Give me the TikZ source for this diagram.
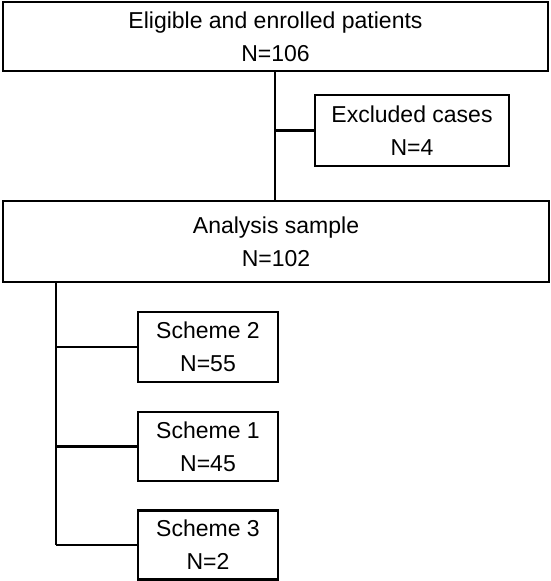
\documentclass[tikz,border=0pt]{standalone}
\usepackage{fontspec}
\setmainfont{Liberation Sans}
\usepackage{tikz}
\usetikzlibrary{positioning,calc}

\begin{document}
\begin{tikzpicture}[x=1pt,y=1pt,
    box/.style={draw=black,line width=2.6pt,fill=white,align=center,
      inner sep=0pt,font=\fontsize{23}{33}\selectfont},
    link/.style={draw=black,line width=2.6pt}]
  \useasboundingbox (0,0) rectangle (551,-581);
  % top of the flow
  \node[box,minimum width=545,minimum height=69] (enrol) at (275.5,-36.5)
    {Eligible and enrolled patients\\N=106};
  \node[box,minimum width=194,minimum height=71] (excl) at (412,-130.5)
    {Excluded cases\\N=4};
  \node[box,minimum width=546,minimum height=81] (sample) at (276,-241.5)
    {Analysis sample\\N=102};
  % schemes
  \node[box,minimum width=140,minimum height=70] (scheme2) at (208,-347)
    {Scheme 2\\N=55};
  \node[box,minimum width=140,minimum height=69] (scheme1) at (208,-446.5)
    {Scheme 1\\N=45};
  \node[box,minimum width=140,minimum height=69] (scheme3) at (208,-545)
    {Scheme 3\\N=2};
  % connectors
  \coordinate (spine) at (56,-282);
  \draw[link] (enrol.south -| 275,0) -- (sample.north -| 275,0);
  \draw[link] (excl.west -| 275,0) -- (excl.west);
  \draw[link] (spine |- sample.south) -- (spine |- scheme3.west);
  \foreach \s in {scheme2,scheme1,scheme3}
    \draw[link] (spine |- \s.west) -- (\s.west);
\end{tikzpicture}
\end{document}
